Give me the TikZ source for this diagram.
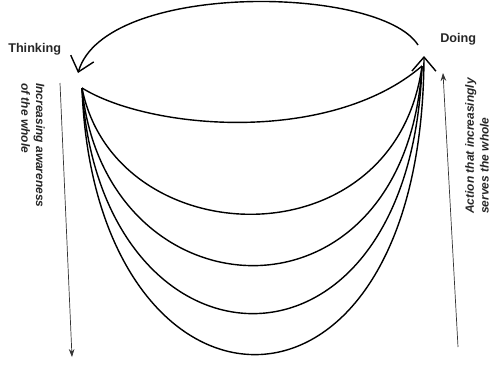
\documentclass[tikz,border=0pt]{standalone}
\usepackage{fontspec}
\setmainfont{Liberation Sans}
\usetikzlibrary{arrows.meta}
\tikzset{
  >={Stealth[length=2mm,width=1.4mm]},
  % kurvor
  loopc/.style={draw=black,line width=1pt},
  chev/.style={-{Straight Barb[length=3.5mm,width=6mm]}},
  cyc/.style={draw=black,line width=1pt,chev},
  side/.style={->,draw=black!80,line width=0.5pt},
  % texter
  lbl/.style={font=\fontsize{9}{11}\selectfont\bfseries,inner sep=0pt,text=black!85},
  sidetxt/.style={font=\fontsize{8.5}{10.5}\selectfont\bfseries\itshape,inner sep=0pt,
                  align=left,text=black!85},
}
\begin{document}
\begin{tikzpicture}[x=0.025cm,y=-0.025cm]
\useasboundingbox (0,0) rectangle (494,376);
  \coordinate (think) at (82,88);
  \coordinate (do) at (422,66);
  \coordinate (dotip) at (424,56);
  \coordinate (arcR) at (418,45);
  \coordinate (arcL) at (78,73);
  \coordinate (awtop) at (60,83);
  \coordinate (awbot) at (72,357);
  \coordinate (actbot) at (458,347);
  \coordinate (acttop) at (443,73);
  \node[lbl,anchor=base west] (thinking) at (8,52) {Thinking};
  \node[lbl,anchor=base west] (doing) at (440,42) {Doing};
  \node[sidetxt,rotate=-90,anchor=north west] (aware) at (45,83) {Increasing awareness\\of the whole};
  \node[sidetxt,rotate=90,anchor=north west] (serve) at (465,214) {Action that increasingly\\serves the whole};
  \draw[cyc] (arcR) .. controls (380,-15) and (105,-19) .. (arcL);
  \draw[loopc] (think) .. controls (150,130) and (330,145) .. (do);
  \draw[loopc] (think) .. controls (115,255) and (395,265) .. (do);
  \draw[loopc] (think) .. controls (105,320) and (405,337) .. (do);
  \draw[loopc] (think) .. controls (100,385) and (410,400) .. (do);
  \draw[loopc,chev] (think) .. controls (95,440) and (422,457) .. (dotip);
  \draw[side] (awtop) -- (awbot);
  \draw[side] (actbot) -- (acttop);
\end{tikzpicture}
\end{document}
